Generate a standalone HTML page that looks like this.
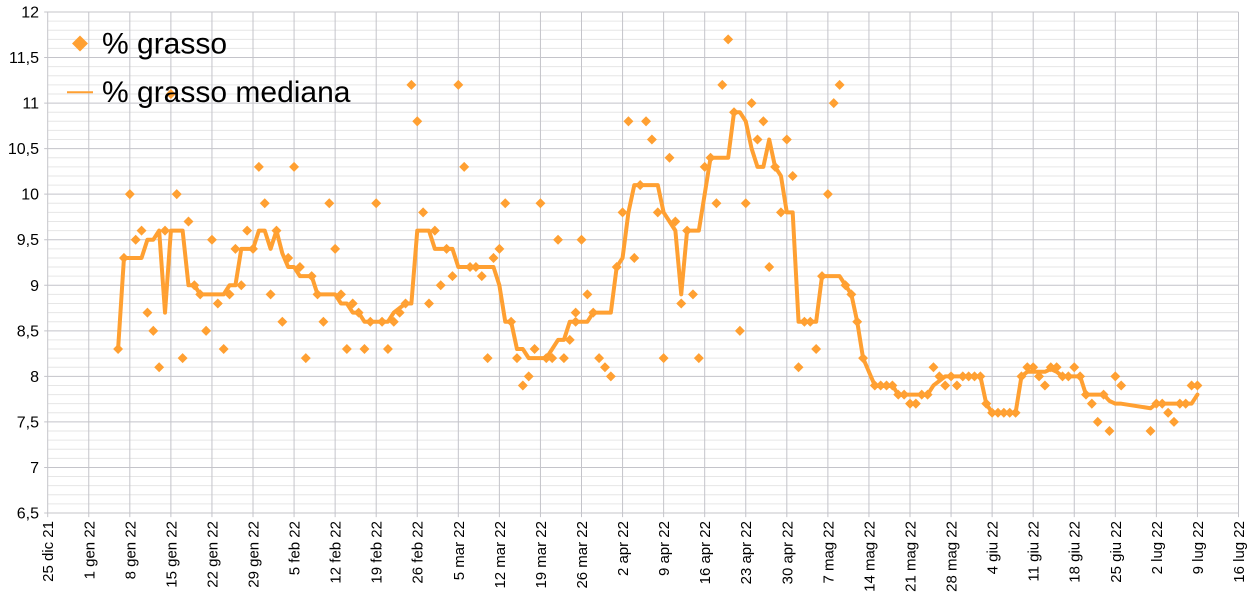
<!DOCTYPE html>
<html><head><meta charset="utf-8"><style>
html,body{margin:0;padding:0;background:#fff;}
svg{display:block;}
text{font-family:"Liberation Sans",Arial,sans-serif;fill:#000;}
</style></head><body>
<svg width="1250" height="601" viewBox="0 0 1250 601" xmlns="http://www.w3.org/2000/svg">
<rect width="1250" height="601" fill="#fff"/>
<g transform="translate(47.7,12) scale(5.866,9.109)">
<path fill="none" stroke="#e6e6e6" stroke-width="1" vector-effect="non-scaling-stroke" d="M0 1H203M0 2H203M0 3H203M0 4H203M0 6H203M0 7H203M0 8H203M0 9H203M0 11H203M0 12H203M0 13H203M0 14H203M0 16H203M0 17H203M0 18H203M0 19H203M0 21H203M0 22H203M0 23H203M0 24H203M0 26H203M0 27H203M0 28H203M0 29H203M0 31H203M0 32H203M0 33H203M0 34H203M0 36H203M0 37H203M0 38H203M0 39H203M0 41H203M0 42H203M0 43H203M0 44H203M0 46H203M0 47H203M0 48H203M0 49H203M0 51H203M0 52H203M0 53H203M0 54H203"/>
<path fill="none" stroke="#c4c4ca" stroke-width="1" vector-effect="non-scaling-stroke" d="M-0.6 0H203M-0.6 5H203M-0.6 10H203M-0.6 15H203M-0.6 20H203M-0.6 25H203M-0.6 30H203M-0.6 35H203M-0.6 40H203M-0.6 45H203M-0.6 50H203M-0.6 55H203M0 0V55.45M7 0V55.45M14 0V55.45M21 0V55.45M28 0V55.45M35 0V55.45M42 0V55.45M49 0V55.45M56 0V55.45M63 0V55.45M70 0V55.45M77 0V55.45M84 0V55.45M91 0V55.45M98 0V55.45M105 0V55.45M112 0V55.45M119 0V55.45M126 0V55.45M133 0V55.45M140 0V55.45M147 0V55.45M154 0V55.45M161 0V55.45M168 0V55.45M175 0V55.45M182 0V55.45M189 0V55.45M196 0V55.45M203 0V55.45"/>
<polyline fill="none" stroke="#ffa032" stroke-width="4" stroke-linejoin="round" stroke-linecap="round" vector-effect="non-scaling-stroke" points="12,37 13,27 16,27 17,25 18,25 19,24 20,33 21,24 23,24 24,30 25,30 26,31 30,31 31,30 32,30 33,26 35,26 36,24 37,24 38,26 39,24 40,26.5 41,28 42,28 43,29 45,29 46,31 49,31 50,32 51,32 52,33 53,33 54,34 58,34 59,33 61,32 62,32 63,24 65,24 66,26 69,26 70,28 76,28 77,30 78,34 79,34 80,37 81,37 82,38 85,38 86,37 87,36 88,36 89,34 92,34 93,33 96,33 97,28 98,27 99,22 100,19 104,19 105,22 106,23 107,24 108,31 109,24 111,24 112,20 113,16 116,16 117,11 118,11 119,12 120,15 121,17 122,17 123,14 124,17 125,18 126,22 127,22 128,34 131,34 132,29 135,29 136,30 137,31 138,34 139,38 141,41 144,41 145,42 150,42 151,41 152,40.5 153,40 159,40 160,43 161,44 165,44 166,40 167,39.5 170,39.5 171,39.2 172,39.5 173,40 176,40 177,42 180,42 181,42.7 182,43 183,43 188,43.5 189,43 195,43 196,42"/>
<path fill="#ffa032" d="M12 37m0-.55l.85.55-.85.55-.85-.55zM13 27m0-.55l.85.55-.85.55-.85-.55zM14 20m0-.55l.85.55-.85.55-.85-.55zM15 25m0-.55l.85.55-.85.55-.85-.55zM16 24m0-.55l.85.55-.85.55-.85-.55zM17 33m0-.55l.85.55-.85.55-.85-.55zM18 35m0-.55l.85.55-.85.55-.85-.55zM19 39m0-.55l.85.55-.85.55-.85-.55zM20 24m0-.55l.85.55-.85.55-.85-.55zM21 9m0-.55l.85.55-.85.55-.85-.55zM22 20m0-.55l.85.55-.85.55-.85-.55zM23 38m0-.55l.85.55-.85.55-.85-.55zM24 23m0-.55l.85.55-.85.55-.85-.55zM25 30m0-.55l.85.55-.85.55-.85-.55zM26 31m0-.55l.85.55-.85.55-.85-.55zM27 35m0-.55l.85.55-.85.55-.85-.55zM28 25m0-.55l.85.55-.85.55-.85-.55zM29 32m0-.55l.85.55-.85.55-.85-.55zM30 37m0-.55l.85.55-.85.55-.85-.55zM31 31m0-.55l.85.55-.85.55-.85-.55zM32 26m0-.55l.85.55-.85.55-.85-.55zM33 30m0-.55l.85.55-.85.55-.85-.55zM34 24m0-.55l.85.55-.85.55-.85-.55zM35 26m0-.55l.85.55-.85.55-.85-.55zM36 17m0-.55l.85.55-.85.55-.85-.55zM37 21m0-.55l.85.55-.85.55-.85-.55zM38 31m0-.55l.85.55-.85.55-.85-.55zM39 24m0-.55l.85.55-.85.55-.85-.55zM40 34m0-.55l.85.55-.85.55-.85-.55zM41 27m0-.55l.85.55-.85.55-.85-.55zM42 17m0-.55l.85.55-.85.55-.85-.55zM43 28m0-.55l.85.55-.85.55-.85-.55zM44 38m0-.55l.85.55-.85.55-.85-.55zM45 29m0-.55l.85.55-.85.55-.85-.55zM46 31m0-.55l.85.55-.85.55-.85-.55zM47 34m0-.55l.85.55-.85.55-.85-.55zM48 21m0-.55l.85.55-.85.55-.85-.55zM49 26m0-.55l.85.55-.85.55-.85-.55zM50 31m0-.55l.85.55-.85.55-.85-.55zM51 37m0-.55l.85.55-.85.55-.85-.55zM52 32m0-.55l.85.55-.85.55-.85-.55zM53 33m0-.55l.85.55-.85.55-.85-.55zM54 37m0-.55l.85.55-.85.55-.85-.55zM55 34m0-.55l.85.55-.85.55-.85-.55zM56 21m0-.55l.85.55-.85.55-.85-.55zM57 34m0-.55l.85.55-.85.55-.85-.55zM58 37m0-.55l.85.55-.85.55-.85-.55zM59 34m0-.55l.85.55-.85.55-.85-.55zM60 33m0-.55l.85.55-.85.55-.85-.55zM61 32m0-.55l.85.55-.85.55-.85-.55zM62 8m0-.55l.85.55-.85.55-.85-.55zM63 12m0-.55l.85.55-.85.55-.85-.55zM64 22m0-.55l.85.55-.85.55-.85-.55zM65 32m0-.55l.85.55-.85.55-.85-.55zM66 24m0-.55l.85.55-.85.55-.85-.55zM67 30m0-.55l.85.55-.85.55-.85-.55zM68 26m0-.55l.85.55-.85.55-.85-.55zM69 29m0-.55l.85.55-.85.55-.85-.55zM70 8m0-.55l.85.55-.85.55-.85-.55zM71 17m0-.55l.85.55-.85.55-.85-.55zM72 28m0-.55l.85.55-.85.55-.85-.55zM73 28m0-.55l.85.55-.85.55-.85-.55zM74 29m0-.55l.85.55-.85.55-.85-.55zM75 38m0-.55l.85.55-.85.55-.85-.55zM76 27m0-.55l.85.55-.85.55-.85-.55zM77 26m0-.55l.85.55-.85.55-.85-.55zM78 21m0-.55l.85.55-.85.55-.85-.55zM79 34m0-.55l.85.55-.85.55-.85-.55zM80 38m0-.55l.85.55-.85.55-.85-.55zM81 41m0-.55l.85.55-.85.55-.85-.55zM82 40m0-.55l.85.55-.85.55-.85-.55zM83 37m0-.55l.85.55-.85.55-.85-.55zM84 21m0-.55l.85.55-.85.55-.85-.55zM85 38m0-.55l.85.55-.85.55-.85-.55zM86 38m0-.55l.85.55-.85.55-.85-.55zM87 25m0-.55l.85.55-.85.55-.85-.55zM88 38m0-.55l.85.55-.85.55-.85-.55zM89 36m0-.55l.85.55-.85.55-.85-.55zM90 34m0-.55l.85.55-.85.55-.85-.55zM90 33m0-.55l.85.55-.85.55-.85-.55zM91 25m0-.55l.85.55-.85.55-.85-.55zM92 31m0-.55l.85.55-.85.55-.85-.55zM93 33m0-.55l.85.55-.85.55-.85-.55zM94 38m0-.55l.85.55-.85.55-.85-.55zM95 39m0-.55l.85.55-.85.55-.85-.55zM96 40m0-.55l.85.55-.85.55-.85-.55zM97 28m0-.55l.85.55-.85.55-.85-.55zM98 22m0-.55l.85.55-.85.55-.85-.55zM99 12m0-.55l.85.55-.85.55-.85-.55zM100 27m0-.55l.85.55-.85.55-.85-.55zM101 19m0-.55l.85.55-.85.55-.85-.55zM102 12m0-.55l.85.55-.85.55-.85-.55zM103 14m0-.55l.85.55-.85.55-.85-.55zM104 22m0-.55l.85.55-.85.55-.85-.55zM105 38m0-.55l.85.55-.85.55-.85-.55zM106 16m0-.55l.85.55-.85.55-.85-.55zM107 23m0-.55l.85.55-.85.55-.85-.55zM108 32m0-.55l.85.55-.85.55-.85-.55zM109 24m0-.55l.85.55-.85.55-.85-.55zM110 31m0-.55l.85.55-.85.55-.85-.55zM111 38m0-.55l.85.55-.85.55-.85-.55zM112 17m0-.55l.85.55-.85.55-.85-.55zM113 16m0-.55l.85.55-.85.55-.85-.55zM114 21m0-.55l.85.55-.85.55-.85-.55zM115 8m0-.55l.85.55-.85.55-.85-.55zM116 3m0-.55l.85.55-.85.55-.85-.55zM117 11m0-.55l.85.55-.85.55-.85-.55zM118 35m0-.55l.85.55-.85.55-.85-.55zM119 21m0-.55l.85.55-.85.55-.85-.55zM120 10m0-.55l.85.55-.85.55-.85-.55zM121 14m0-.55l.85.55-.85.55-.85-.55zM122 12m0-.55l.85.55-.85.55-.85-.55zM123 28m0-.55l.85.55-.85.55-.85-.55zM124 17m0-.55l.85.55-.85.55-.85-.55zM125 22m0-.55l.85.55-.85.55-.85-.55zM126 14m0-.55l.85.55-.85.55-.85-.55zM127 18m0-.55l.85.55-.85.55-.85-.55zM128 39m0-.55l.85.55-.85.55-.85-.55zM129 34m0-.55l.85.55-.85.55-.85-.55zM130 34m0-.55l.85.55-.85.55-.85-.55zM131 37m0-.55l.85.55-.85.55-.85-.55zM132 29m0-.55l.85.55-.85.55-.85-.55zM133 20m0-.55l.85.55-.85.55-.85-.55zM134 10m0-.55l.85.55-.85.55-.85-.55zM135 8m0-.55l.85.55-.85.55-.85-.55zM136 30m0-.55l.85.55-.85.55-.85-.55zM137 31m0-.55l.85.55-.85.55-.85-.55zM138 34m0-.55l.85.55-.85.55-.85-.55zM139 38m0-.55l.85.55-.85.55-.85-.55zM141 41m0-.55l.85.55-.85.55-.85-.55zM142 41m0-.55l.85.55-.85.55-.85-.55zM143 41m0-.55l.85.55-.85.55-.85-.55zM144 41m0-.55l.85.55-.85.55-.85-.55zM145 42m0-.55l.85.55-.85.55-.85-.55zM146 42m0-.55l.85.55-.85.55-.85-.55zM147 43m0-.55l.85.55-.85.55-.85-.55zM148 43m0-.55l.85.55-.85.55-.85-.55zM149 42m0-.55l.85.55-.85.55-.85-.55zM150 42m0-.55l.85.55-.85.55-.85-.55zM151 39m0-.55l.85.55-.85.55-.85-.55zM152 40m0-.55l.85.55-.85.55-.85-.55zM153 41m0-.55l.85.55-.85.55-.85-.55zM154 40m0-.55l.85.55-.85.55-.85-.55zM155 41m0-.55l.85.55-.85.55-.85-.55zM156 40m0-.55l.85.55-.85.55-.85-.55zM157 40m0-.55l.85.55-.85.55-.85-.55zM158 40m0-.55l.85.55-.85.55-.85-.55zM159 40m0-.55l.85.55-.85.55-.85-.55zM160 43m0-.55l.85.55-.85.55-.85-.55zM161 44m0-.55l.85.55-.85.55-.85-.55zM162 44m0-.55l.85.55-.85.55-.85-.55zM163 44m0-.55l.85.55-.85.55-.85-.55zM164 44m0-.55l.85.55-.85.55-.85-.55zM165 44m0-.55l.85.55-.85.55-.85-.55zM166 40m0-.55l.85.55-.85.55-.85-.55zM167 39m0-.55l.85.55-.85.55-.85-.55zM168 39m0-.55l.85.55-.85.55-.85-.55zM169 40m0-.55l.85.55-.85.55-.85-.55zM170 41m0-.55l.85.55-.85.55-.85-.55zM171 39m0-.55l.85.55-.85.55-.85-.55zM172 39m0-.55l.85.55-.85.55-.85-.55zM173 40m0-.55l.85.55-.85.55-.85-.55zM174 40m0-.55l.85.55-.85.55-.85-.55zM175 39m0-.55l.85.55-.85.55-.85-.55zM176 40m0-.55l.85.55-.85.55-.85-.55zM177 42m0-.55l.85.55-.85.55-.85-.55zM178 43m0-.55l.85.55-.85.55-.85-.55zM179 45m0-.55l.85.55-.85.55-.85-.55zM180 42m0-.55l.85.55-.85.55-.85-.55zM181 46m0-.55l.85.55-.85.55-.85-.55zM182 40m0-.55l.85.55-.85.55-.85-.55zM183 41m0-.55l.85.55-.85.55-.85-.55zM188 46m0-.55l.85.55-.85.55-.85-.55zM189 43m0-.55l.85.55-.85.55-.85-.55zM190 43m0-.55l.85.55-.85.55-.85-.55zM191 44m0-.55l.85.55-.85.55-.85-.55zM192 45m0-.55l.85.55-.85.55-.85-.55zM193 43m0-.55l.85.55-.85.55-.85-.55zM194 43m0-.55l.85.55-.85.55-.85-.55zM195 41m0-.55l.85.55-.85.55-.85-.55zM196 41m0-.55l.85.55-.85.55-.85-.55z"/>
</g>

<g font-size="16" text-anchor="end">
<text x="39" y="17.5">12</text>
<text x="39" y="63">11,5</text>
<text x="39" y="108.6">11</text>
<text x="39" y="154.1">10,5</text>
<text x="39" y="199.7">10</text>
<text x="39" y="245.2">9,5</text>
<text x="39" y="290.8">9</text>
<text x="39" y="336.3">8,5</text>
<text x="39" y="381.9">8</text>
<text x="39" y="427.4">7,5</text>
<text x="39" y="473">7</text>
<text x="39" y="518.5">6,5</text>
</g>

<g font-size="15" text-anchor="end">
<text transform="translate(53.2,521) rotate(-90)">25 dic 21</text>
<text transform="translate(94.26,521) rotate(-90)">1 gen 22</text>
<text transform="translate(135.32,521) rotate(-90)">8 gen 22</text>
<text transform="translate(176.38,521) rotate(-90)">15 gen 22</text>
<text transform="translate(217.44,521) rotate(-90)">22 gen 22</text>
<text transform="translate(258.5,521) rotate(-90)">29 gen 22</text>
<text transform="translate(299.56,521) rotate(-90)">5 feb 22</text>
<text transform="translate(340.62,521) rotate(-90)">12 feb 22</text>
<text transform="translate(381.68,521) rotate(-90)">19 feb 22</text>
<text transform="translate(422.74,521) rotate(-90)">26 feb 22</text>
<text transform="translate(463.8,521) rotate(-90)">5 mar 22</text>
<text transform="translate(504.86,521) rotate(-90)">12 mar 22</text>
<text transform="translate(545.92,521) rotate(-90)">19 mar 22</text>
<text transform="translate(586.98,521) rotate(-90)">26 mar 22</text>
<text transform="translate(628.04,521) rotate(-90)">2 apr 22</text>
<text transform="translate(669.1,521) rotate(-90)">9 apr 22</text>
<text transform="translate(710.16,521) rotate(-90)">16 apr 22</text>
<text transform="translate(751.22,521) rotate(-90)">23 apr 22</text>
<text transform="translate(792.28,521) rotate(-90)">30 apr 22</text>
<text transform="translate(833.34,521) rotate(-90)">7 mag 22</text>
<text transform="translate(874.4,521) rotate(-90)">14 mag 22</text>
<text transform="translate(915.46,521) rotate(-90)">21 mag 22</text>
<text transform="translate(956.52,521) rotate(-90)">28 mag 22</text>
<text transform="translate(997.58,521) rotate(-90)">4 giu 22</text>
<text transform="translate(1038.64,521) rotate(-90)">11 giu 22</text>
<text transform="translate(1079.7,521) rotate(-90)">18 giu 22</text>
<text transform="translate(1120.76,521) rotate(-90)">25 giu 22</text>
<text transform="translate(1161.82,521) rotate(-90)">2 lug 22</text>
<text transform="translate(1202.88,521) rotate(-90)">9 lug 22</text>
<text transform="translate(1243.94,521) rotate(-90)">16 lug 22</text>
</g>

<g>
<path d="M80 35.5L88 43.5 80 51.5 72 43.5Z" fill="#ffa032"/>
<text x="102" y="53.5" font-size="30">% grasso</text>
<line x1="67" y1="92.3" x2="93" y2="92.3" stroke="#ffa032" stroke-width="2"/>
<text x="102" y="102" font-size="30">% grasso mediana</text>
</g>
</svg>
</body></html>
